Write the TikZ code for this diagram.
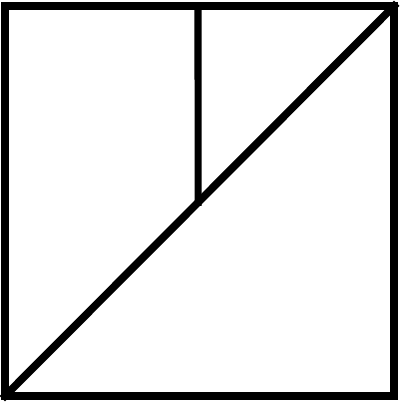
\documentclass[tikz,border=0pt]{standalone}
\usepackage{tikz}
\usetikzlibrary{calc}

\begin{document}
\begin{tikzpicture}[
      edge/.style={
        line width=2.4pt,line cap=rect,line join=miter
      },
    ]
    \useasboundingbox (0,0) rectangle (4,4.02);
    \coordinate (bl) at (0.05,0.06);
    \coordinate (br) at (3.94,0.06);
    \coordinate (tr) at (3.94,3.96);
    \coordinate (tl) at (0.05,3.96);
    \coordinate (tm) at (1.98,3.96);
    \coordinate (bm) at (1.98,0.06);
    \coordinate (mid) at (intersection of tm--bm and bl--tr);
    \draw[edge] (bl) -- (br) -- (tr) -- (tl) -- cycle;
    \draw[edge,line width=2.2pt] (bl) -- (tr);
    \draw[edge,line width=2pt] (tm) -- (mid);
  \end{tikzpicture}
\end{document}
